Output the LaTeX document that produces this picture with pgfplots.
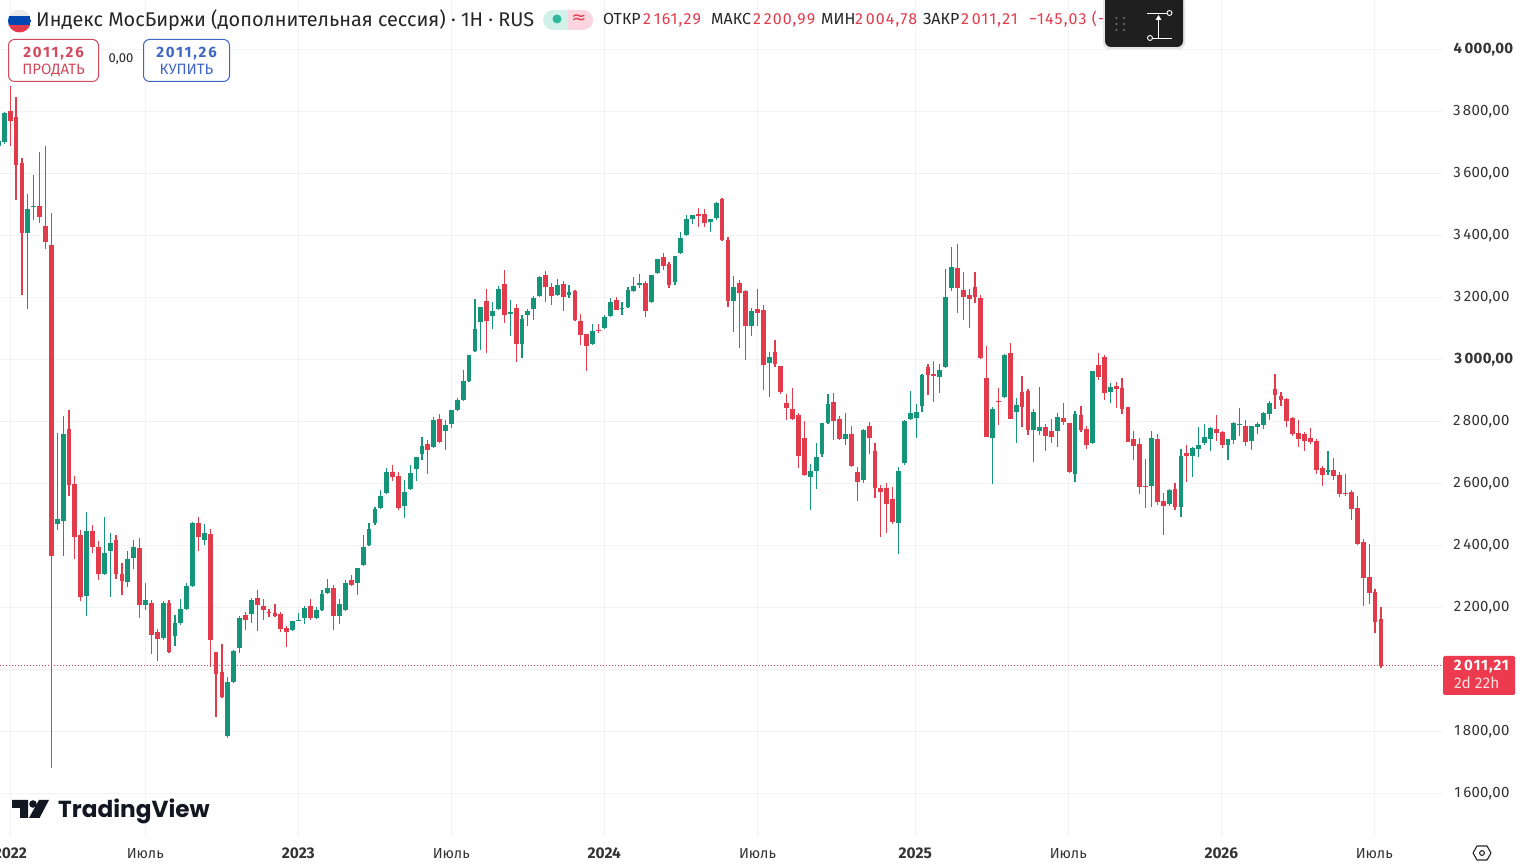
\documentclass[border=0pt]{standalone}
\usepackage{fontspec}
\setmainfont{Fira Sans}
\newfontfamily\logofont{Poppins}
\newfontfamily\symfont{DejaVu Sans}
\usepackage{pgfplots}
\usepackage{pgfplotstable}
\pgfplotsset{compat=1.18}
\definecolor{tvred}{HTML}{E23B4C}
\definecolor{tvgreen}{HTML}{149479}
\definecolor{gridc}{HTML}{F1F2F4}
\definecolor{lab}{HTML}{333333}
\definecolor{sellc}{HTML}{D14A5C}
\definecolor{buyc}{HTML}{3F66C6}
\definecolor{pillg}{HTML}{D2F1E9}
\definecolor{pillr}{HTML}{FBD6E0}
\definecolor{dotg}{HTML}{2FB89B}
\definecolor{wid}{HTML}{1F1F1F}
\definecolor{plabel}{HTML}{EC3A4E}
\definecolor{tvblack}{HTML}{131722}
\pgfplotstableread{
i o h l c
-1 3688 3705 3685 3702
0 3701 3796 3695 3792
4 3406 3531 3162 3485
5 3492 3593 3449 3495
9 2467 2761 2450 2484
10 2477 2817 2366 2759
14 2235 2508 2171 2446
17 2306 2491 2305 2375
18 2380 2438 2232 2407
21 2280 2380 2264 2355
22 2357 2415 2322 2392
24 2207 2276 2190 2224
27 2099 2220 2092 2214
29 2106 2175 2074 2150
30 2147 2227 2141 2194
31 2193 2276 2190 2269
32 2267 2474 2266 2471
34 2417 2469 2401 2439
38 1783 1973 1778 1957
39 1958 2060 1957 2059
40 2069 2172 2052 2166
42 2176 2228 2150 2224
49 2125 2156 2124 2155
50 2157 2181 2155 2159
51 2163 2202 2146 2198
53 2166 2201 2163 2191
54 2191 2255 2189 2243
55 2244 2291 2243 2262
57 2170 2227 2144 2211
58 2191 2286 2189 2278
60 2276 2327 2238 2327
61 2337 2433 2333 2395
62 2399 2471 2398 2453
63 2471 2523 2463 2517
64 2520 2577 2517 2559
65 2569 2648 2566 2637
68 2527 2611 2486 2572
69 2580 2659 2578 2633
70 2646 2685 2607 2684
71 2695 2749 2675 2720
73 2715 2813 2714 2804
75 2769 2804 2707 2788
76 2791 2837 2779 2837
77 2836 2874 2831 2869
78 2869 2966 2867 2930
79 2930 3014 2929 3012
80 3025 3195 3024 3098
81 3118 3169 3028 3169
83 3138 3185 3096 3156
84 3160 3235 3159 3227
86 3144 3191 3073 3153
88 3050 3142 3002 3130
89 3141 3161 3105 3156
90 3162 3202 3125 3198
91 3202 3268 3201 3266
94 3205 3259 3204 3239
96 3205 3240 3196 3217
100 3050 3113 3049 3091
102 3099 3142 3098 3137
103 3138 3197 3137 3185
105 3163 3185 3143 3166
106 3167 3232 3166 3224
107 3218 3264 3217 3237
108 3240 3275 3228 3245
110 3183 3272 3182 3271
111 3276 3324 3275 3323
114 3249 3333 3238 3332
115 3341 3410 3340 3391
116 3399 3464 3398 3453
117 3453 3466 3437 3464
120 3441 3453 3409 3453
121 3456 3506 3449 3504
124 3188 3269 3088 3233
127 3107 3166 3075 3156
130 2986 3022 2878 3007
137 2620 2662 2514 2640
138 2640 2730 2582 2685
139 2695 2795 2685 2795
140 2795 2888 2793 2856
143 2743 2827 2724 2759
146 2611 2775 2601 2772
152 2472 2653 2372 2640
153 2666 2804 2659 2801
154 2807 2898 2806 2827
155 2811 2856 2746 2830
156 2849 2953 2830 2949
159 2943 2985 2891 2966
160 2975 3291 2974 3201
161 3230 3362 3220 3298
168 2746 2846 2598 2840
170 2879 3017 2875 3014
172 2830 2875 2730 2853
175 2772 2840 2669 2830
176 2769 2911 2756 2782
179 2769 2827 2717 2814
182 2630 2833 2604 2824
185 2730 2962 2727 2962
188 2895 2924 2859 2911
195 2591 2769 2524 2746
198 2533 2582 2527 2578
200 2524 2711 2491 2688
202 2688 2717 2620 2714
203 2711 2782 2685 2724
204 2730 2791 2724 2749
205 2743 2782 2704 2778
208 2724 2743 2675 2743
209 2740 2798 2727 2795
210 2786 2843 2753 2791
212 2737 2785 2707 2785
213 2782 2798 2759 2791
214 2788 2830 2775 2827
215 2824 2866 2804 2859
225 2637 2704 2627 2641
}\greentable
\pgfplotstableread{
i o h l c
1 3800 3880 3688 3768
2 3782 3845 3512 3625
3 3632 3649 3206 3408
6 3494 3667 3438 3457
7 3429 3687 3354 3376
8 3369 3470 1681 2366
11 2775 2835 2557 2593
12 2597 2624 2354 2425
13 2431 2449 2218 2232
15 2446 2466 2373 2393
16 2392 2414 2287 2306
19 2417 2432 2290 2306
20 2308 2343 2240 2283
23 2389 2421 2166 2206
25 2214 2222 2050 2109
26 2120 2129 2025 2096
28 2214 2221 2053 2055
33 2471 2491 2380 2425
35 2436 2452 2006 2092
36 2055 2056 1845 1983
37 1990 2081 1908 1909
41 2175 2185 2125 2157
43 2230 2255 2121 2205
44 2204 2227 2159 2191
45 2183 2194 2167 2180
46 2182 2211 2169 2172
47 2178 2185 2118 2130
48 2133 2139 2072 2120
52 2204 2226 2157 2166
56 2262 2271 2127 2170
59 2287 2304 2267 2272
66 2637 2659 2607 2620
67 2624 2635 2514 2520
72 2727 2739 2630 2707
74 2808 2823 2730 2733
82 3188 3227 3019 3121
85 3243 3288 3115 3141
87 3166 3177 2989 3050
92 3272 3284 3185 3231
93 3232 3244 3175 3202
95 3243 3252 3154 3199
97 3220 3224 3124 3125
98 3124 3145 3044 3076
99 3082 3082 2960 3041
101 3094 3113 3083 3091
104 3190 3199 3157 3159
109 3246 3253 3137 3154
112 3330 3343 3288 3299
113 3307 3314 3228 3240
118 3469 3487 3425 3460
119 3469 3485 3425 3438
122 3517 3519 3380 3385
123 3385 3394 3169 3186
125 3246 3256 3034 3212
126 3220 3224 2998 3107
128 3161 3227 3105 3149
129 3159 3175 2901 2982
131 3022 3062 2974 2985
132 2978 2978 2888 2895
133 2859 2888 2804 2843
134 2840 2907 2804 2807
135 2820 2826 2649 2688
136 2746 2801 2621 2627
141 2862 2891 2740 2801
142 2807 2817 2740 2743
144 2759 2785 2653 2656
145 2637 2653 2543 2604
147 2785 2798 2695 2746
148 2704 2730 2553 2585
149 2585 2595 2427 2572
150 2585 2601 2440 2533
151 2549 2588 2469 2475
157 2975 2985 2885 2949
158 2953 2995 2862 2946
162 3295 3372 3148 3230
163 3224 3282 3127 3201
164 3208 3227 3101 3195
165 3233 3282 3182 3201
166 3198 3208 3001 3004
167 2940 3043 2748 2750
169 2866 2908 2788 2862
171 3020 3053 2806 2808
173 2895 2946 2782 2846
174 2898 2904 2756 2772
177 2782 2791 2704 2753
178 2769 2808 2730 2750
180 2811 2859 2788 2798
181 2794 2795 2633 2637
183 2820 2849 2766 2772
184 2775 2785 2711 2724
186 2982 3020 2933 2943
187 3008 3014 2869 2891
189 2914 2927 2843 2904
190 2908 2940 2824 2840
191 2846 2846 2732 2733
192 2743 2769 2675 2720
193 2727 2746 2566 2588
194 2591 2679 2520 2588
196 2743 2759 2530 2540
197 2543 2569 2433 2527
199 2582 2601 2514 2524
201 2698 2724 2604 2688
206 2775 2820 2737 2762
207 2766 2769 2714 2724
211 2785 2804 2720 2733
216 2904 2953 2840 2885
217 2882 2895 2849 2869
218 2872 2875 2782 2801
219 2811 2814 2753 2759
220 2762 2804 2717 2743
221 2759 2766 2704 2737
222 2746 2778 2727 2733
223 2737 2743 2630 2643
224 2649 2656 2591 2627
226 2643 2682 2611 2624
227 2627 2637 2556 2566
228 2569 2630 2559 2566
229 2572 2578 2482 2517
230 2520 2559 2401 2404
231 2411 2420 2204 2295
232 2298 2404 2211 2246
233 2249 2259 2117 2153
234 2161.29 2200.99 2004.78 2011.21
}\redtable
\begin{document}
\begin{tikzpicture}[x=1pt,y=1pt]
\clip (0,0) rectangle (1517,864);
\fill[white] (0,0) rectangle (1517,864);
\begin{axis}[
  at={(0pt,28pt)}, anchor=south west,
  scale only axis, width=1443pt, height=836pt,
  xmin=-0.731, xmax=244.55, ymin=1461.3, ymax=4158.1,
  axis line style={draw=none},
  major tick length=0pt,
  grid=major,
  grid style={draw=gridc,line width=1pt},
  xtick={1.02,23.97,49.97,75.98,101.99,128.03,154.85,180.86,206.87,232.87},
  xticklabels={\textbf{\fontsize{15.5}{15}\selectfont 2022},Июль,\textbf{\fontsize{15.5}{15}\selectfont 2023},Июль,\textbf{\fontsize{15.5}{15}\selectfont 2024},Июль,\textbf{\fontsize{15.5}{15}\selectfont 2025},Июль,\textbf{\fontsize{15.5}{15}\selectfont 2026},Июль},
  xticklabel style={anchor=base,yshift=-23pt,font=\fontsize{14.5}{15}\selectfont,text=lab},
  ytick={1600,1800,2000,2200,2400,2600,2800,3000,3200,3400,3600,3800,4000},
  yticklabels={{1\,600,00},{1\,800,00},{},{2\,200,00},{2\,400,00},{2\,600,00},{2\,800,00},{\textbf{3\,000,00}\kern-4pt},{3\,200,00},{3\,400,00},{3\,600,00},{3\,800,00},{\textbf{4\,000,00}\kern-4pt}},
  yticklabel pos=right,
  yticklabel style={anchor=east,xshift=70pt,yshift=-1pt,font=\fontsize{15}{15}\selectfont\addfontfeature{LetterSpace=2},text=lab},
]
\addplot[tvred,line width=0.9pt,dash pattern=on 1pt off 2pt] coordinates {(-0.731,2011.21) (244.55,2011.21)};
\addplot[draw=none,mark=none,error bars/.cd,y dir=both,y explicit,error mark=none,
  error bar style={draw=tvgreen,line width=1.2pt}]
  table[x=i,y=o,y error plus expr=\thisrow{h}-\thisrow{o},y error minus expr=\thisrow{o}-\thisrow{l}] {\greentable};
\addplot[draw=none,mark=none,error bars/.cd,y dir=both,y explicit,error mark=none,
  error bar style={draw=tvred,line width=1.2pt}]
  table[x=i,y=o,y error plus expr=\thisrow{h}-\thisrow{o},y error minus expr=\thisrow{o}-\thisrow{l}] {\redtable};
\addplot[draw=none,mark=none,error bars/.cd,y dir=plus,y explicit,error mark=none,
  error bar style={draw=tvgreen,line width=4.8pt}]
  table[x=i,y=o,y error plus expr=\thisrow{c}-\thisrow{o}] {\greentable};
\addplot[draw=none,mark=none,error bars/.cd,y dir=minus,y explicit,error mark=none,
  error bar style={draw=tvred,line width=4.8pt}]
  table[x=i,y=o,y error minus expr=\thisrow{o}-\thisrow{c}] {\redtable};
\end{axis}
\begin{scope}[shift={(0,864)},x=1pt,y=-1pt]
  % flag
  \begin{scope}
    \clip (19.5,21) circle (11.5);
    \fill[white!92!black] (8,9) rectangle (31,16);
    \fill[blue!60!cyan!70!black] (8,16) rectangle (31,25);
    \fill[tvred] (8,25) rectangle (31,34);
  \end{scope}
  % title
  \node[anchor=base west,inner sep=0,text=black!85] at (36,27) {\fontsize{19.85}{20}\selectfont Индекс МосБиржи (дополнительная сессия) · 1H · RUS};
  % pill
  \fill[pillg] (553,10) -- (568,10) -- (568,30) -- (553,30) arc (90:270:10);
  \fill[pillr] (568,10) -- (583,10) arc (-90:90:10) -- (568,30) -- cycle;
  \fill[dotg] (557,19) circle (4.5);
  \node[text=tvred,inner sep=0] at (579,19) {\symfont\fontsize{18}{18}\selectfont ≈};
  % OHLC
  \begin{scope}[every node/.style={anchor=base west,inner sep=0}]
    \def\oh{\fontsize{16}{16}\selectfont}
    \def\ov{\fontsize{16}{16}\selectfont\addfontfeature{LetterSpace=7}}
    \node[text=black!85] at (603,25) {\oh ОТКР};
    \node[text=tvred] at (643,25) {\ov 2\,161,29};
    \node[text=black!85] at (711,25) {\oh МАКС};
    \node[text=tvred] at (753,25) {\ov 2\,200,99};
    \node[text=black!85] at (821,25) {\oh МИН};
    \node[text=tvred] at (855,25) {\ov 2\,004,78};
    \node[text=black!85] at (923,25) {\oh ЗАКР};
    \node[text=tvred] at (961,25) {\ov 2\,011,21};
    \node[text=tvred] at (1029,25) {\ov −145,03 (−};
  \end{scope}
  % buttons
  \draw[sellc,line width=1pt,fill=white,rounded corners=6pt] (8.5,39.5) rectangle (98.5,81.5);
  \draw[buyc,line width=1pt,fill=white,rounded corners=6pt] (143.5,39.5) rectangle (229.5,81.5);
  \node[text=sellc,inner sep=0,anchor=base] at (53.5,57.5) {\fontsize{15}{15}\selectfont\bfseries\addfontfeature{LetterSpace=12}2011,26};
  \node[text=sellc,inner sep=0,anchor=base] at (53.5,74.5) {\fontsize{15}{15}\selectfont ПРОДАТЬ};
  \node[text=buyc,inner sep=0,anchor=base] at (186.5,57.5) {\fontsize{15}{15}\selectfont\bfseries\addfontfeature{LetterSpace=12}2011,26};
  \node[text=buyc,inner sep=0,anchor=base] at (186.5,74.5) {\fontsize{15}{15}\selectfont КУПИТЬ};
  \node[text=black!85,inner sep=0] at (121,59) {\fontsize{13}{13}\selectfont 0,00};
  % widget
  \fill[black!10,rounded corners=6pt] (1103,-4) rectangle (1185,49);
  \fill[wid,rounded corners=6pt] (1105,-6) rectangle (1183,47);
  \foreach \a in {1116.5,1124} \foreach \b in {18,24,30} \fill[black!55] (\a,\b) circle (1.1);
  \draw[white,line width=0.9pt] (1147,13) -- (1167,13);
  \draw[white,line width=0.9pt] (1153,38) -- (1172,38);
  \draw[white,line width=0.9pt] (1169.5,13) circle (2.5);
  \draw[white,line width=0.9pt] (1150,38) circle (2.5);
  \draw[white,line width=0.9pt] (1158.5,38) -- (1158.5,18);
  \fill[white] (1158.5,15) -- (1161.5,20) -- (1155.5,20) -- cycle;
  % price label
  \fill[plabel,rounded corners=1.5pt] (1443,656) rectangle (1515,695);
  \node[anchor=base east,inner sep=0,text=white] at (1509,671) {\fontsize{15}{15}\selectfont\bfseries\addfontfeature{LetterSpace=6}2\,011,21};
  \node[anchor=base west,inner sep=0,text=white!88!red] at (1454,689) {\fontsize{15.5}{15.5}\selectfont 2d 22h};
  % logo
  \fill[tvblack] (12,800) -- (28,800) -- (28,818) -- (20,818) -- (20,808) -- (12,808) -- cycle;
  \fill[tvblack] (33,804) circle (3.8);
  \fill[tvblack] (39,800) -- (49,800) -- (39.5,818) -- (29,818) -- cycle;
  \node[anchor=base west,inner sep=0,text=tvblack] at (58,818) {\logofont\bfseries\fontsize{23.2}{24}\selectfont TradingView};
  % settings icon
  \draw[black!85,line width=1.1pt,line join=round] (1473,853) -- (1477,846) -- (1487,846) -- (1491,853) -- (1487,860) -- (1477,860) -- cycle;
  \draw[black!85,line width=1.1pt] (1482,853) circle (2.4);
\end{scope}
\end{tikzpicture}
\end{document}
